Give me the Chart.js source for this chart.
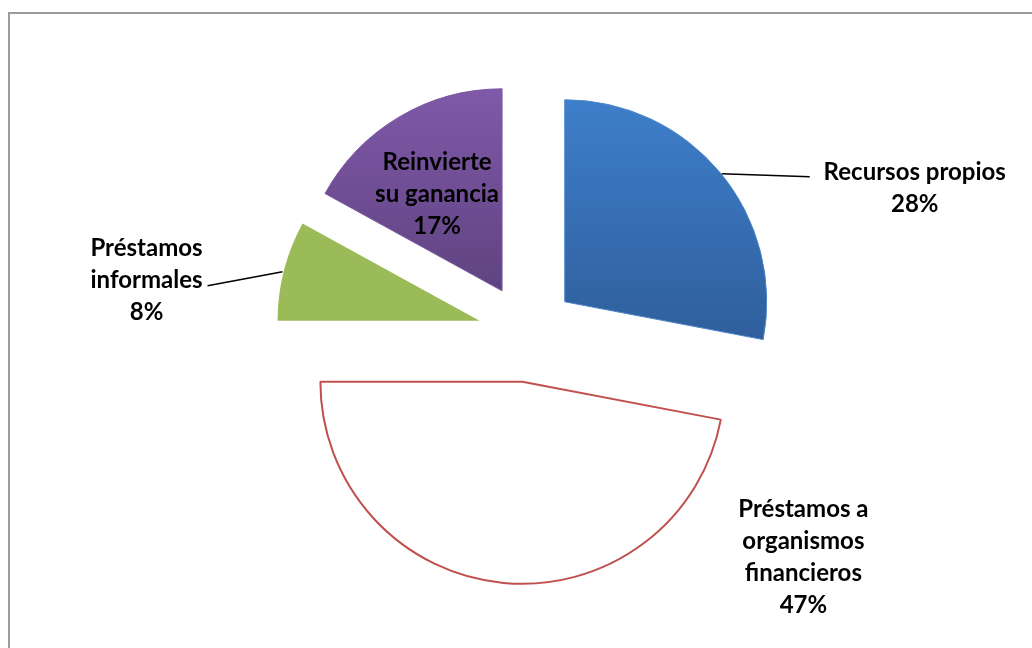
<!DOCTYPE html>
<html>
<head>
<meta charset="utf-8">
<script src="https://cdn.jsdelivr.net/npm/chart.js@4"></script>
<style>
  html, body { margin: 0; padding: 0; background: #fff; overflow: hidden; }
  #wrap { position: relative; width: 1032px; height: 648px; }
  #frame { position: absolute; left: 8px; top: 12px; width: 1100px; height: 700px; border: 2px solid #9c9c9c; }
  canvas { position: absolute; left: 0; top: 0; }
</style>
</head>
<body>
<div id="wrap">
  <div id="frame"></div>
  <canvas id="pie" width="1032" height="648"></canvas>
</div>
<script>
// chart data
const categories = ['Recursos propios', 'Préstamos a organismos financieros', 'Préstamos informales', 'Reinvierte su ganancia'];
const shares = [28, 47, 8, 17];
const labelLines = [
    ['Recursos propios', '28%'],
    ['Préstamos a', 'organismos', 'financieros', '47%'],
    ['Préstamos', 'informales', '8%'],
    ['Reinvierte', 'su ganancia', '17%']
];

// layout of the labels, measured from each slice's own centre
const labelPos = [
    { dx: 350, dy: -114, leader: [[157, -128], [245, -125]] },
    { dx: 281, dy: 175, leader: null },
    { dx: -333, dy: -41, leader: [[-197, -49], [-272, -35]] },
    { dx: -65, dy: -97, leader: null }
];
const explode = 49;

function vGrad(ctx, y0, y1, c0, c1) {
    const g = ctx.createLinearGradient(0, y0, 0, y1);
    g.addColorStop(0, c0);
    g.addColorStop(1, c1);
    return g;
}

function sliceFill(context) {
    const chart = context.chart;
    const area = chart.chartArea;
    if (!area) return '#4f81bd';
    const cy = (area.top + area.bottom) / 2;
    const ctx = chart.ctx;
    switch (context.dataIndex) {
        case 0: return vGrad(ctx, cy - 235, cy + 10, '#3e7fcb', '#2f5e9b');
        case 1: return '#ffffff';
        case 2: return '#9bbb59';
        default: return vGrad(ctx, cy - 245, cy - 40, '#8059a9', '#5f4380');
    }
}

// push each slice out along its middle angle
const explodePlugin = {
    id: 'explode',
    afterDatasetsUpdate(chart) {
        chart.getDatasetMeta(0).data.forEach(arc => {
            const mid = (arc.startAngle + arc.endAngle) / 2;
            arc.x += Math.cos(mid) * explode;
            arc.y += Math.sin(mid) * explode;
        });
    }
};

// labels and leader lines
const labelPlugin = {
    id: 'sliceLabels',
    afterDatasetsDraw(chart) {
        const ctx = chart.ctx;
        ctx.save();
        chart.getDatasetMeta(0).data.forEach((arc, i) => {
            const p = labelPos[i];
            if (p.leader) {
                ctx.beginPath();
                ctx.strokeStyle = '#000';
                ctx.lineWidth = 1.5;
                ctx.moveTo(arc.x + p.leader[0][0], arc.y + p.leader[0][1]);
                ctx.lineTo(arc.x + p.leader[1][0], arc.y + p.leader[1][1]);
                ctx.stroke();
            }
            const lines = labelLines[i];
            const lh = 32;
            const x = arc.x + p.dx;
            const y0 = arc.y + p.dy - (lines.length - 1) * lh / 2;
            ctx.fillStyle = '#000';
            ctx.font = 'bold 24px Lato';
            ctx.textAlign = 'center';
            ctx.textBaseline = 'middle';
            lines.forEach((t, k) => ctx.fillText(t, x, y0 + k * lh));
        });
        ctx.restore();
    }
};

new Chart(document.getElementById('pie'), {
    type: 'pie',
    data: {
        labels: categories,
        datasets: [{
            data: shares,
            backgroundColor: sliceFill,
            borderColor: ['#4a84c8', '#c0504d', '#9bbb59', '#7a57a0'],
            borderWidth: [1, 2, 0, 1],
            radius: 202
        }]
    },
    options: {
        responsive: false,
        animation: false,
        events: [],
        layout: { padding: { left: 22, right: 0, top: 18, bottom: 0 } },
        plugins: {
            legend: { display: false },
            tooltip: { enabled: false }
        }
    },
    plugins: [explodePlugin, labelPlugin]
});
</script>
</body>
</html>
